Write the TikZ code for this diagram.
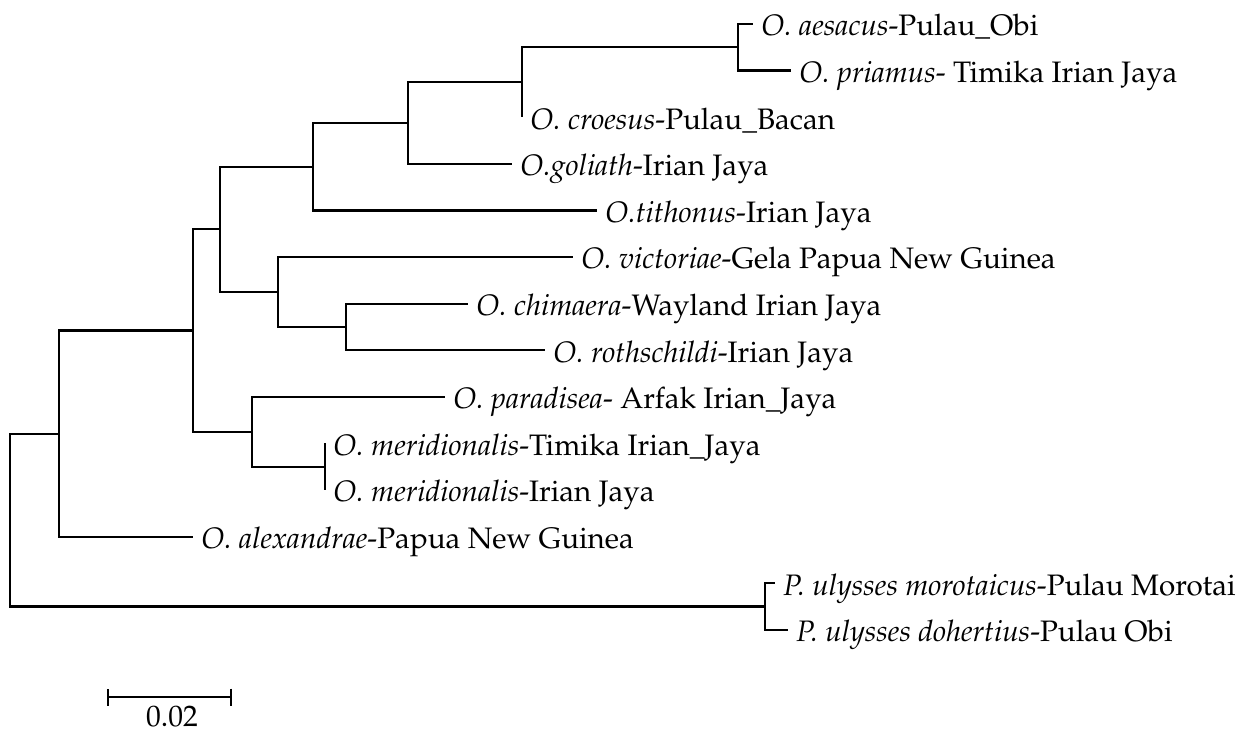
\documentclass[tikz,border=0pt]{standalone}
\usepackage[T1]{fontenc}
\usepackage{mathpazo}
\usetikzlibrary{arrows.meta}

\begin{document}
\begin{tikzpicture}[
  x=0.5pt, y=-0.5pt,
  branch/.style={
    line width=1.1pt,
    line join=miter
  },
  taxon/.style={
    anchor=base west,
    inner sep=0pt,
    xshift=4pt,
    yshift=-5.9pt,
    font=\fontsize{14.8}{17}\selectfont
  },
  scalebar/.style={
    line width=1.1pt,
    {Bar[width=8.5pt]}-{Bar[width=8.5pt]}
  }
]
\useasboundingbox (0,0) rectangle (1240,733);

% --- INTERNAL NODES ---
\coordinate (root) at (10,520);
\coordinate (orn) at (59,433.6);
\coordinate (pap) at (765,606.5);
\coordinate (core) at (193,330.5);
\coordinate (upper) at (220,229.3);
\coordinate (tith_n) at (313,166.7);
\coordinate (gol_n) at (408,123);
\coordinate (cro_n) at (522,82.3);
\coordinate (pri_n) at (738,47.3);
\coordinate (vic_n) at (278,292);
\coordinate (chi_n) at (346,326.9);
\coordinate (par_n) at (252,431.7);
\coordinate (mer_n) at (325,466.7);

% --- TIPS ---
\coordinate (aesacus_tip) at (753,24);
\coordinate (priamus_tip) at (791,70.6);
\coordinate (croesus_tip) at (522,117.2);
\coordinate (goliath_tip) at (512,163.8);
\coordinate (tithonus_tip) at (597,210.4);
\coordinate (victoriae_tip) at (573,257);
\coordinate (chimaera_tip) at (468,303.6);
\coordinate (rothschildi_tip) at (545,350.2);
\coordinate (paradisea_tip) at (445,396.8);
\coordinate (meridT_tip) at (325,443.4);
\coordinate (merid_tip) at (325,490);
\coordinate (alexandrae_tip) at (193,536.6);
\coordinate (morotaicus_tip) at (775,583.2);
\coordinate (dohertius_tip) at (788,629.8);

% --- LABELS ---
\node[taxon] (aesacus) at (aesacus_tip) {\textit{O. aesacus}-Pulau\_Obi};
\node[taxon] (priamus) at (priamus_tip) {\textit{O. priamus}- Timika Irian Jaya};
\node[taxon] (croesus) at (croesus_tip) {\textit{O. croesus}-Pulau\_Bacan};
\node[taxon] (goliath) at (goliath_tip) {\textit{O.goliath}-Irian Jaya};
\node[taxon] (tithonus) at (tithonus_tip) {\textit{O.tithonus}-Irian Jaya};
\node[taxon] (victoriae) at (victoriae_tip) {\textit{O. victoriae}-Gela Papua New Guinea};
\node[taxon] (chimaera) at (chimaera_tip) {\textit{O. chimaera}-Wayland Irian Jaya};
\node[taxon] (rothschildi) at (rothschildi_tip) {\textit{O. rothschildi}-Irian Jaya};
\node[taxon] (paradisea) at (paradisea_tip) {\textit{O. paradisea}- Arfak Irian\_Jaya};
\node[taxon] (meridT) at (meridT_tip) {\textit{O. meridionalis}-Timika Irian\_Jaya};
\node[taxon] (merid) at (merid_tip) {\textit{O. meridionalis}-Irian Jaya};
\node[taxon] (alexandrae) at (alexandrae_tip) {\textit{O. alexandrae}-Papua New Guinea};
\node[taxon] (morotaicus) at (morotaicus_tip) {\textit{P. ulysses morotaicus}-Pulau Morotai};
\node[taxon] (dohertius) at (dohertius_tip) {\textit{P. ulysses dohertius}-Pulau Obi};

% --- BRANCHES ---
\draw[branch] (root) |- (orn);
\draw[branch] (root) |- (pap);
\draw[branch] (pap) |- (morotaicus_tip);
\draw[branch] (pap) |- (dohertius_tip);
\draw[branch] (orn) |- (core);
\draw[branch] (orn) |- (alexandrae_tip);
\draw[branch] (core) |- (upper);
\draw[branch] (core) |- (par_n);
\draw[branch] (upper) |- (tith_n);
\draw[branch] (upper) |- (vic_n);
\draw[branch] (tith_n) |- (gol_n);
\draw[branch] (tith_n) |- (tithonus_tip);
\draw[branch] (gol_n) |- (cro_n);
\draw[branch] (gol_n) |- (goliath_tip);
\draw[branch] (cro_n) |- (pri_n);
\draw[branch] (cro_n) |- (croesus_tip);
\draw[branch] (pri_n) |- (aesacus_tip);
\draw[branch] (pri_n) |- (priamus_tip);
\draw[branch] (vic_n) |- (victoriae_tip);
\draw[branch] (vic_n) |- (chi_n);
\draw[branch] (chi_n) |- (chimaera_tip);
\draw[branch] (chi_n) |- (rothschildi_tip);
\draw[branch] (par_n) |- (paradisea_tip);
\draw[branch] (par_n) |- (mer_n);
\draw[branch] (mer_n) |- (meridT_tip);
\draw[branch] (mer_n) |- (merid_tip);

% --- SCALE BAR ---
\coordinate (bar_l) at (107,697);
\coordinate (bar_r) at (232,697);
\draw[scalebar] (bar_l) -- (bar_r);
\node[anchor=base, inner sep=0pt, font=\fontsize{14.8}{17}\selectfont] (bar_label) at (172,726) {0.02};

\end{tikzpicture}
\end{document}
